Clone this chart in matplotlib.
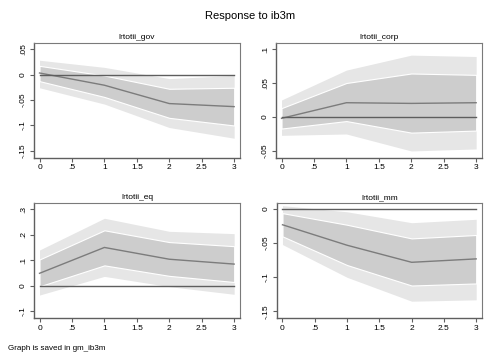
import numpy as np
import matplotlib.pyplot as plt

plt.rcParams["font.family"] = ["Liberation Sans", "DejaVu Sans"]

step = [0, 1, 2, 3]

# lrtotii_gov
gov_irf = [0.003, -0.021, -0.057, -0.063]
gov_in_hi = [0.017, -0.002, -0.028, -0.026]
gov_in_lo = [-0.013, -0.044, -0.085, -0.100]
gov_out_hi = [0.028, 0.014, -0.008, -0.002]
gov_out_lo = [-0.026, -0.058, -0.104, -0.125]

# lrtotii_corp
corp_irf = [-0.002, 0.021, 0.020, 0.021]
corp_in_hi = [0.013, 0.050, 0.064, 0.062]
corp_in_lo = [-0.017, -0.006, -0.023, -0.020]
corp_out_hi = [0.025, 0.069, 0.091, 0.089]
corp_out_lo = [-0.027, -0.025, -0.050, -0.047]

# lrtotii_eq
eq_irf = [0.049, 0.150, 0.104, 0.085]
eq_in_hi = [0.103, 0.217, 0.171, 0.155]
eq_in_lo = [-0.002, 0.080, 0.039, 0.015]
eq_out_hi = [0.140, 0.264, 0.213, 0.204]
eq_out_lo = [-0.036, 0.037, -0.003, -0.033]

# lrtotii_mm
mm_irf = [-0.023, -0.053, -0.078, -0.073]
mm_in_hi = [-0.006, -0.023, -0.043, -0.038]
mm_in_lo = [-0.040, -0.082, -0.112, -0.109]
mm_out_hi = [0.005, -0.004, -0.020, -0.015]
mm_out_lo = [-0.052, -0.100, -0.135, -0.133]

x_ticks = [0, 0.5, 1, 1.5, 2, 2.5, 3]
x_labels = ["0", ".5", "1", "1.5", "2", "2.5", "3"]

panels = [
    ("lrtotii_gov", gov_irf, gov_in_lo, gov_in_hi, gov_out_lo, gov_out_hi,
     [0.05, 0, -0.05, -0.1, -0.15], [".05", "0", "-.05", "-.1", "-.15"]),
    ("lrtotii_corp", corp_irf, corp_in_lo, corp_in_hi, corp_out_lo, corp_out_hi,
     [0.1, 0.05, 0, -0.05], [".1", ".05", "0", "-.05"]),
    ("lrtotii_eq", eq_irf, eq_in_lo, eq_in_hi, eq_out_lo, eq_out_hi,
     [0.3, 0.2, 0.1, 0, -0.1], [".3", ".2", ".1", "0", "-.1"]),
    ("lrtotii_mm", mm_irf, mm_in_lo, mm_in_hi, mm_out_lo, mm_out_hi,
     [0, -0.05, -0.1, -0.15], ["0", "-.05", "-.1", "-.15"]),
]

W, H = 500, 364
boxes = [(34, 240, 42.5, 157.5), (276, 482, 42.5, 157.5),
         (34, 240, 202.5, 318), (277, 482, 202.5, 318)]

fig = plt.figure(figsize=(W / 100, H / 100), dpi=100)
frame = "#5f5f5f"

for (name, irf, ilo, ihi, olo, ohi, yt, yl), (l, r, t, b) in zip(panels, boxes):
    ax = fig.add_axes([l / W, (H - b) / H, (r - l) / W, (b - t) / H])
    ax.fill_between(step, olo, ohi, color="#e6e6e6", linewidth=0)
    ax.fill_between(step, ilo, ihi, facecolor="#cdcdcd", edgecolor="white", linewidth=0.8)
    ax.plot(step, irf, color="#7c7c7c", linewidth=1.0)
    ax.plot(step, [0] * len(step), color="#5e5e5e", linewidth=1.0)

    lo, hi = min(yt), max(yt)
    m = 0.064 * (hi - lo)
    ax.set_ylim(lo - m, hi + m)
    ax.set_xlim(-0.085, 3.09)
    ax.set_xticks(x_ticks)
    ax.set_xticklabels(x_labels)
    ax.set_yticks(yt)
    ax.set_yticklabels(yl, rotation=90, va="center")
    ax.tick_params(length=3, width=0.8, color=frame, pad=2, labelsize=6)
    for s in ax.spines.values():
        s.set_color("#7a7a7a")
        s.set_linewidth(0.8)
    ax.spines["left"].set_color(frame)
    ax.spines["bottom"].set_color(frame)
    ax.spines["left"].set_linewidth(1.0)
    ax.spines["bottom"].set_linewidth(1.0)
    ax.set_title(name, fontsize=6, pad=2.5)

fig.text(0.5, 1 - 16 / H, "Response to ib3m", ha="center", va="center", fontsize=8)
fig.text(8 / W, 1 - 349 / H, "Graph is saved in gm_ib3m", ha="left", va="center", fontsize=5.8)

fig.savefig("out.png", dpi=100)
